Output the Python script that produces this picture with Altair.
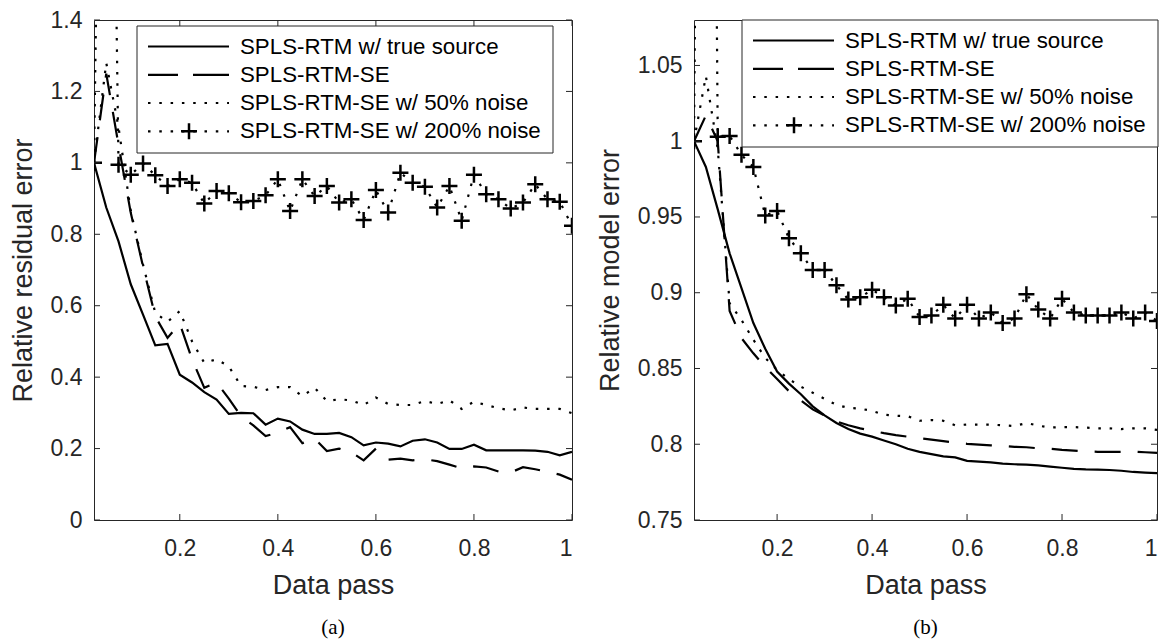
import altair as alt
import pandas as pd

# ---------------- data ----------------
x_pass = [0.025, 0.05, 0.075, 0.1, 0.125, 0.15, 0.175, 0.2, 0.225, 0.25,
          0.275, 0.3, 0.325, 0.35, 0.375, 0.4, 0.425, 0.45, 0.475, 0.5,
          0.525, 0.55, 0.575, 0.6, 0.625, 0.65, 0.675, 0.7, 0.725, 0.75,
          0.775, 0.8, 0.825, 0.85, 0.875, 0.9, 0.925, 0.95, 0.975, 1.0]

series_names = ["SPLS-RTM w/ true source", "SPLS-RTM-SE",
                "SPLS-RTM-SE w/ 50% noise", "SPLS-RTM-SE w/ 200% noise"]

# (a) relative residual error
a_true = [1.0, 0.875, 0.78, 0.66, 0.575, 0.489, 0.493, 0.407, 0.385, 0.358,
          0.337, 0.297, 0.300, 0.299, 0.267, 0.284, 0.276, 0.253, 0.241, 0.241,
          0.244, 0.232, 0.209, 0.217, 0.214, 0.206, 0.222, 0.226, 0.217, 0.199,
          0.199, 0.211, 0.195, 0.195, 0.195, 0.195, 0.194, 0.191, 0.181, 0.191]
a_se = [1.0, 1.25, 1.05, 0.86, 0.71, 0.57, 0.51, 0.55, 0.45, 0.37,
        0.385, 0.34, 0.29, 0.265, 0.235, 0.245, 0.26, 0.215, 0.228, 0.193,
        0.2, 0.19, 0.167, 0.2, 0.169, 0.172, 0.167, 0.17, 0.165, 0.155,
        0.145, 0.15, 0.147, 0.136, 0.133, 0.148, 0.142, 0.135, 0.127, 0.113]
a_n50 = [1.0, 1.28, 1.1, 0.865, 0.715, 0.58, 0.555, 0.585, 0.50, 0.44,
         0.45, 0.43, 0.375, 0.373, 0.364, 0.372, 0.372, 0.347, 0.37, 0.333,
         0.338, 0.335, 0.322, 0.343, 0.325, 0.322, 0.322, 0.333, 0.325, 0.335,
         0.311, 0.331, 0.322, 0.313, 0.307, 0.315, 0.311, 0.311, 0.311, 0.299]
a_n200 = [1.0, 3.5, 0.995, 0.967, 0.998, 0.965, 0.935, 0.954, 0.944, 0.886,
          0.921, 0.915, 0.89, 0.893, 0.909, 0.954, 0.865, 0.954, 0.907, 0.935,
          0.889, 0.898, 0.84, 0.924, 0.861, 0.972, 0.944, 0.933, 0.875, 0.935,
          0.838, 0.967, 0.912, 0.898, 0.872, 0.889, 0.94, 0.898, 0.891, 0.824]

# (b) relative model error
b_true = [1.0, 0.983, 0.955, 0.926, 0.903, 0.88, 0.863, 0.848, 0.84, 0.833,
          0.825, 0.819, 0.814, 0.81, 0.807, 0.805, 0.8025, 0.80, 0.797, 0.795,
          0.7935, 0.792, 0.7913, 0.789, 0.7885, 0.788, 0.7872, 0.7868, 0.7865, 0.786,
          0.7852, 0.7845, 0.7838, 0.7834, 0.7832, 0.783, 0.7825, 0.7817, 0.7813, 0.781]
b_se = [1.0, 1.017, 1.0, 0.888, 0.87, 0.86, 0.851, 0.843, 0.835, 0.829,
        0.823, 0.819, 0.815, 0.8125, 0.8105, 0.809, 0.8073, 0.806, 0.805, 0.804,
        0.803, 0.802, 0.801, 0.8003, 0.7998, 0.7993, 0.799, 0.7983, 0.798, 0.7973,
        0.797, 0.7963, 0.7958, 0.7953, 0.795, 0.795, 0.795, 0.7952, 0.7947, 0.7943]
b_n50 = [1.0, 1.043, 0.995, 0.893, 0.882, 0.869, 0.857, 0.849, 0.843, 0.838,
         0.834, 0.830, 0.826, 0.824, 0.8235, 0.822, 0.8195, 0.8188, 0.8185, 0.8155,
         0.816, 0.8155, 0.8125, 0.813, 0.813, 0.813, 0.8125, 0.812, 0.814, 0.8123,
         0.811, 0.8113, 0.8113, 0.811, 0.8105, 0.8105, 0.81, 0.8105, 0.8105, 0.8095]
b_n200 = [1.0, 2.0, 1.003, 1.0035, 0.991, 0.983, 0.951, 0.954, 0.936, 0.926,
          0.915, 0.915, 0.905, 0.8955, 0.897, 0.902, 0.897, 0.8915, 0.896, 0.884,
          0.885, 0.892, 0.883, 0.892, 0.883, 0.887, 0.88, 0.883, 0.899, 0.889,
          0.883, 0.896, 0.887, 0.885, 0.885, 0.885, 0.887, 0.883, 0.887, 0.8814]

x_ticks = [0.2, 0.4, 0.6, 0.8, 1.0]
a_y_ticks = [0, 0.2, 0.4, 0.6, 0.8, 1.0, 1.2, 1.4]
b_y_ticks = [0.75, 0.8, 0.85, 0.9, 0.95, 1.0, 1.05]

# ---------------- styling ----------------
FONT = "Liberation Sans"
AXC = "#262626"
DASH = [26, 17]
DOT = [2.5, 8.8]
PLUS = "M-1,0L1,0M0,-1L0,1"


def long_df(vals):
    rows = []
    for name, ys in zip(series_names, vals):
        for xv, yv in zip(x_pass, ys):
            rows.append({"x": xv, "y": yv, "s": name})
    return pd.DataFrame(rows)


def panel(vals, ydom, yticks, ytitle, caption, W, H, lx, ly):
    df = long_df(vals)
    xenc = alt.X("x:Q", scale=alt.Scale(domain=[0.025, 1.0], nice=False, zero=False),
                 axis=alt.Axis(values=x_ticks, format="~g", title="Data pass",
                               labelPadding=17, titlePadding=12))
    yenc = alt.Y("y:Q", scale=alt.Scale(domain=ydom, nice=False, zero=False),
                 axis=alt.Axis(values=yticks, format="~g", title=ytitle,
                               labelPadding=12, titlePadding=13))
    base = alt.Chart(df)
    styles = [None, DASH, DOT, DOT]
    layers = []
    for name, dash in zip(series_names, styles):
        kw = dict(color="black", strokeWidth=2.2, clip=True)
        if dash is not None:
            kw["strokeDash"] = dash
        layers.append(base.transform_filter(alt.datum.s == name)
                      .mark_line(**kw).encode(x=xenc, y=yenc))
    layers.append(base.transform_filter(alt.datum.s == series_names[3])
                  .mark_point(shape=PLUS, size=256, filled=False, color="black",
                              strokeWidth=2.5, opacity=1, clip=True)
                  .encode(x=xenc, y=yenc))
    # inward ticks on all four sides
    xt = alt.Chart(pd.DataFrame({"x": x_ticks}))
    yt = alt.Chart(pd.DataFrame({"y": yticks}))
    tk = dict(color=AXC, strokeWidth=1)
    layers.append(xt.mark_rule(**tk).encode(x=xenc, y=alt.value(H), y2=alt.value(H - 6)))
    layers.append(xt.mark_rule(**tk).encode(x=xenc, y=alt.value(0), y2=alt.value(6)))
    layers.append(yt.mark_rule(**tk).encode(y=yenc, x=alt.value(0), x2=alt.value(6)))
    layers.append(yt.mark_rule(**tk).encode(y=yenc, x=alt.value(W), x2=alt.value(W - 6)))

    # legend box
    one = alt.Chart(alt.Data(values=[{"k": 1}]))
    BW, BH = 416, 127
    layers.append(one.mark_rect(fill="white", stroke=AXC, strokeWidth=1)
                  .encode(x=alt.value(lx), x2=alt.value(lx + BW),
                          y=alt.value(ly), y2=alt.value(ly + BH)))
    row_off = [20.5, 48.8, 77, 105.3]
    leg_dash = [None, [30, 15, 36, 100], DOT, DOT]
    for name, dash, ro in zip(series_names, leg_dash, row_off):
        kw = dict(color="black", strokeWidth=2.2)
        if dash is not None:
            kw["strokeDash"] = dash
        layers.append(one.mark_rule(**kw).encode(
            x=alt.value(lx + 11), x2=alt.value(lx + 92),
            y=alt.value(ly + ro)))
        layers.append(one.mark_text(align="left", baseline="middle", font=FONT,
                                    fontSize=22.3, color="black").encode(
            x=alt.value(lx + 103), y=alt.value(ly + ro), text=alt.value(name)))
    layers.append(one.mark_point(shape=PLUS, size=256, filled=False, color="black",
                                 strokeWidth=2.5, opacity=1).encode(
        x=alt.value(lx + 52), y=alt.value(ly + row_off[3])))
    # caption
    layers.append(one.mark_text(align="center", baseline="middle",
                                font="Liberation Serif", fontSize=21, color="black")
                  .encode(x=alt.value(W / 2), y=alt.value(H + 108), text=alt.value(caption)))
    return alt.layer(*layers).properties(width=W, height=H)


left = panel([a_true, a_se, a_n50, a_n200], [0, 1.4], a_y_ticks,
             "Relative residual error", "(a)", 478, 500, 43, 6)
right = panel([b_true, b_se, b_n50, b_n200], [0.75, 1.08], b_y_ticks,
              "Relative model error", "(b)", 463, 500, 48, 0)

chart = (alt.hconcat(left, right, spacing=122, bounds="flush")
         .properties(padding={"left": 0, "top": 0, "right": 0, "bottom": 0})
         .configure_view(stroke=AXC, strokeWidth=1)
         .configure_axis(ticks=False, domain=False, grid=False,
                         labelFont=FONT, titleFont=FONT,
                         labelFontSize=23, titleFontSize=27,
                         labelColor=AXC, titleColor=AXC,
                         titleFontWeight="normal"))

chart.save("out.html", embed_options={"renderer": "svg", "actions": False})
